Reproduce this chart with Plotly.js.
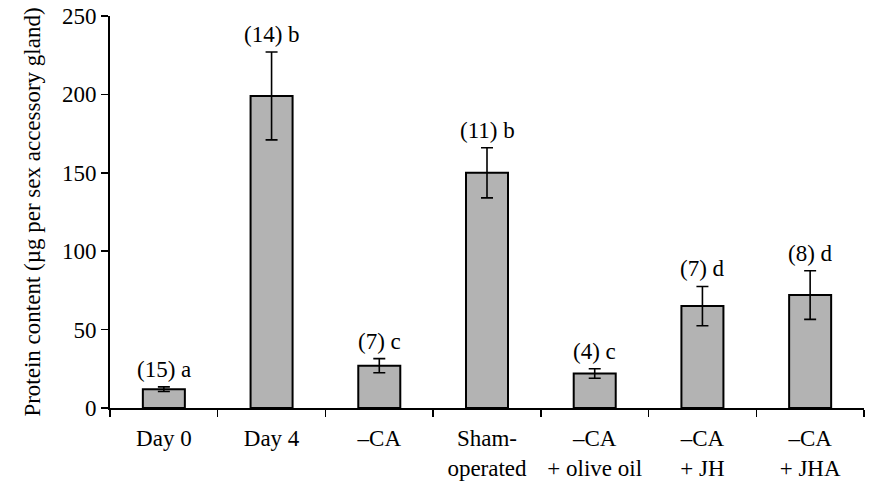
<!DOCTYPE html>
<html>
<head>
<meta charset="utf-8">
<script src="https://cdn.plot.ly/plotly-3.0.1.min.js"></script>
<style>html,body{margin:0;padding:0;background:#fff;}#chart{width:870px;height:481px;}</style>
</head>
<body>
<div id="chart"></div>
<script>
const categories = ["Day 0", "Day 4", "\u2013CA", "Sham-<br>operated", "\u2013CA<br>+ olive oil", "\u2013CA<br>+ JH", "\u2013CA<br>+ JHA"];
const proteinMeans = [12, 199, 27, 150, 22, 65, 72];
const proteinErrors = [1.5, 28, 4.5, 16, 3, 12.5, 15.5];
const sampleSizes = [15, 14, 7, 11, 4, 7, 8];
const groupLetters = ["a", "b", "c", "b", "c", "d", "d"];
const yTickValues = [0, 50, 100, 150, 200, 250];

const FONT = "Liberation Serif";
const boundaries = categories.map((c, i) => i - 0.5).concat([categories.length - 0.5]);

const trace = {
  type: "bar",
  x: categories,
  y: proteinMeans,
  width: 0.39,
  marker: { color: "#b3b3b3", line: { color: "#000", width: 2 } },
  error_y: { type: "data", array: proteinErrors, visible: true, color: "#000", thickness: 1.6, width: 6 },
  hoverinfo: "none"
};

const annotations = categories.map((c, i) => ({
  x: c,
  y: proteinMeans[i] + proteinErrors[i],
  xref: "x",
  yref: "y",
  text: "(" + sampleSizes[i] + ") " + groupLetters[i],
  showarrow: false,
  yanchor: "bottom",
  yshift: 3,
  font: { family: FONT, size: 23, color: "#000" }
}));

const layout = {
  width: 870,
  height: 481,
  margin: { l: 110, r: 6, t: 16, b: 73, pad: 0 },
  paper_bgcolor: "#fff",
  plot_bgcolor: "#fff",
  showlegend: false,
  font: { family: FONT, size: 23, color: "#000" },
  xaxis: {
    type: "category",
    range: [-0.5, categories.length - 0.5],
    tickson: "boundaries",
    ticks: "outside",
    ticklen: 7,
    tickwidth: 1.5,
    tickcolor: "#000",
    ticklabelstandoff: 8,
    showline: true,
    linecolor: "#000",
    linewidth: 2,
    showgrid: false,
    zeroline: false,
    tickfont: { family: FONT, size: 23, color: "#000" },
    fixedrange: true
  },
  xaxis2: {
    overlaying: "x",
    anchor: "y",
    side: "bottom",
    type: "linear",
    range: [-0.5, categories.length - 0.5],
    tickmode: "array",
    tickvals: boundaries,
    ticks: "inside",
    ticklen: 7,
    tickwidth: 1.5,
    tickcolor: "#000",
    showticklabels: false,
    showline: false,
    showgrid: false,
    zeroline: false
  },
  xaxis3: {
    overlaying: "x",
    anchor: "y",
    side: "top",
    type: "linear",
    range: [-0.5, categories.length - 0.5],
    showline: true,
    linecolor: "#777",
    linewidth: 1.2,
    ticks: "",
    showticklabels: false,
    showgrid: false,
    zeroline: false
  },
  yaxis: {
    range: [0, 250],
    tickmode: "array",
    tickvals: yTickValues,
    ticks: "outside",
    ticklen: 7,
    tickwidth: 1.5,
    tickcolor: "#000",
    showline: true,
    linecolor: "#000",
    linewidth: 2,
    showgrid: false,
    zeroline: false,
    tickfont: { family: FONT, size: 23, color: "#000" },
    title: { text: "Protein content (\u00b5g per sex accessory gland)", font: { family: FONT, size: 23, color: "#000" }, standoff: 15 },
    automargin: false,
    fixedrange: true
  },
  yaxis2: {
    overlaying: "y",
    anchor: "x",
    side: "right",
    range: [0, 250],
    showline: true,
    linecolor: "#777",
    linewidth: 1.2,
    ticks: "",
    showticklabels: false,
    showgrid: false,
    zeroline: false
  },
  annotations: annotations,
  bargap: 0.6
};

Plotly.newPlot("chart", [trace], layout, { displayModeBar: false, staticPlot: true });
</script>
</body>
</html>
